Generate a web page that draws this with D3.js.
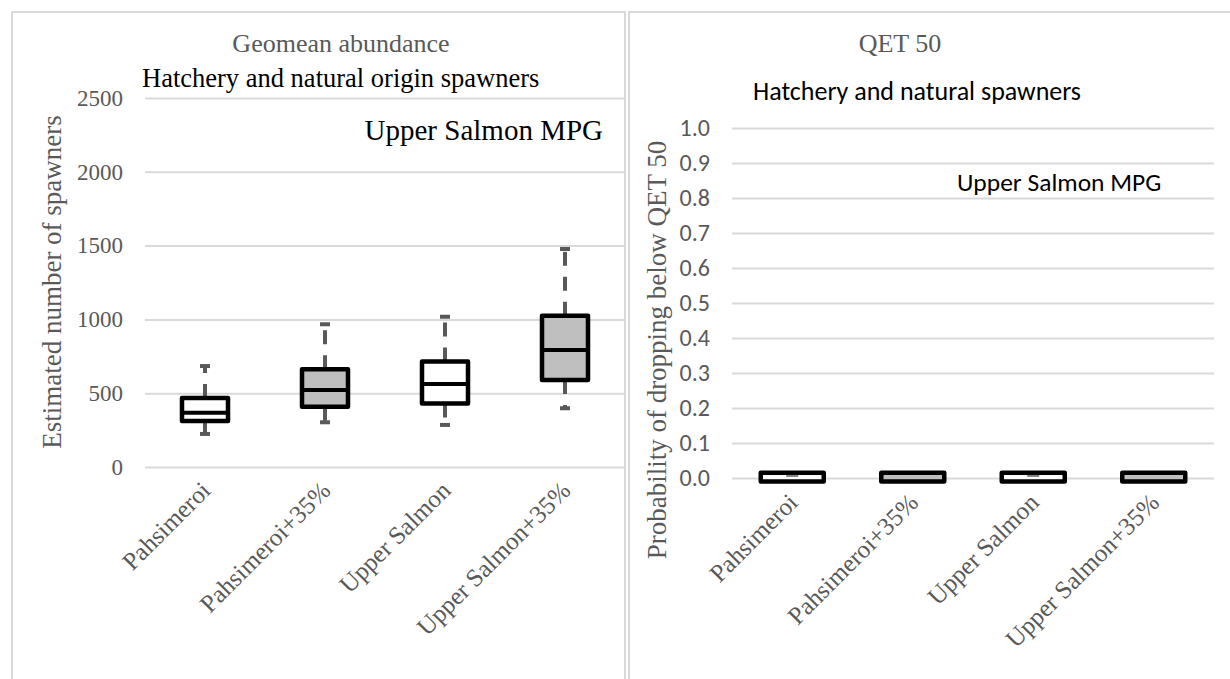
<!DOCTYPE html>
<html>
<head>
<meta charset="utf-8">
<script src="https://cdn.jsdelivr.net/npm/d3@7"></script>
<style>
  body { margin: 0; background: #fff; }
  svg text { font-family: "Liberation Serif", "Times New Roman", serif; }
  .sans { font-family: Carlito, Lato, "Open Sans", sans-serif !important; }
</style>
</head>
<body>
<div id="chart"></div>
<script>
// categories shared by both panels
const categories = ['Pahsimeroi', 'Pahsimeroi+35%', 'Upper Salmon', 'Upper Salmon+35%'];
const boxFill = ['#ffffff', '#bfbfbf', '#ffffff', '#bfbfbf'];

// left panel: geomean abundance (box plot stats)
const abundMin = [224, 303, 285, 398];
const abundQ1 = [312, 408, 430, 590];
const abundMedian = [368, 522, 562, 793];
const abundQ3 = [468, 662, 714, 1024];
const abundMax = [684, 967, 1018, 1477];
const abundTicks = [0, 500, 1000, 1500, 2000, 2500];

// right panel: probability of dropping below QET 50
const qetQ1 = [-0.01, -0.01, -0.01, -0.01];
const qetQ3 = [0.015, 0.015, 0.015, 0.015];
const qetMark = [0.006, null, 0.006, null];
const qetTicks = [0, 0.1, 0.2, 0.3, 0.4, 0.5, 0.6, 0.7, 0.8, 0.9, 1.0];

const width = 1230;
const height = 679;
const grey = '#595959';
const gridColor = '#d9d9d9';

const svg = d3.select('#chart')
    .append('svg')
    .attr('width', width)
    .attr('height', height);

// panel frames
svg.append('rect')
    .attr('x', 12).attr('y', 12)
    .attr('width', 613).attr('height', 700)
    .attr('fill', 'none').attr('stroke', gridColor).attr('stroke-width', 2);
svg.append('rect')
    .attr('x', 629).attr('y', 12)
    .attr('width', 640).attr('height', 700)
    .attr('fill', 'none').attr('stroke', gridColor).attr('stroke-width', 2);

function drawGrid(g, y, ticks, x0, x1, fmt, sans) {
    const axis = d3.axisLeft(y).tickValues(ticks).tickSize(0).tickPadding(0).tickFormat(fmt);
    const ax = g.append('g')
        .attr('transform', `translate(${x0 - 22},0)`)
        .call(axis);
    ax.select('.domain').remove();
    ax.selectAll('text')
        .attr('fill', grey)
        .attr('class', sans ? 'sans' : null)
        .style('font-size', sans ? '24px' : '23px');

    const grid = d3.axisLeft(y).tickValues(ticks).tickSize(-(x1 - x0)).tickFormat('');
    const gg = g.append('g')
        .attr('transform', `translate(${x0},0)`)
        .call(grid);
    gg.select('.domain').remove();
    gg.selectAll('line').attr('stroke', gridColor).attr('stroke-width', 2);
}

function drawXLabels(g, x, yPos, dx) {
    g.selectAll('.xlab')
        .data(categories)
        .enter()
        .append('text')
        .attr('class', 'xlab')
        .attr('transform', d => `translate(${x(d) + x.bandwidth() / 2 + dx},${yPos}) rotate(-45)`)
        .attr('text-anchor', 'end')
        .attr('fill', grey)
        .style('font-size', '25px')
        .text(d => d);
}

// ---------- left panel ----------
const gL = svg.append('g');
const xL = d3.scaleBand().domain(categories).range([145, 625]);
const yL = d3.scaleLinear().domain([0, 2500]).range([467, 98]);

drawGrid(gL, yL, abundTicks, 145, 625, d3.format('d'), false);

const boxWL = 46;
const boxesL = gL.selectAll('.boxL')
    .data(categories)
    .enter()
    .append('g')
    .attr('class', 'boxL')
    .attr('transform', d => `translate(${xL(d) + xL.bandwidth() / 2},0)`);

// whiskers (dashed, from box edge outward)
boxesL.append('line')
    .attr('x1', 0).attr('x2', 0)
    .attr('y1', (d, i) => yL(abundQ3[i]))
    .attr('y2', (d, i) => yL(abundMax[i]))
    .attr('stroke', grey).attr('stroke-width', 4)
    .attr('stroke-dasharray', '14,11');
boxesL.append('line')
    .attr('x1', 0).attr('x2', 0)
    .attr('y1', (d, i) => yL(abundQ1[i]))
    .attr('y2', (d, i) => yL(abundMin[i]))
    .attr('stroke', grey).attr('stroke-width', 4)
    .attr('stroke-dasharray', '14,11');
// caps
[abundMax, abundMin].forEach(arr => {
    boxesL.append('line')
        .attr('x1', -5).attr('x2', 5)
        .attr('y1', (d, i) => yL(arr[i]))
        .attr('y2', (d, i) => yL(arr[i]))
        .attr('stroke', grey).attr('stroke-width', 4);
});
boxesL.append('rect')
    .attr('x', -boxWL / 2)
    .attr('width', boxWL)
    .attr('y', (d, i) => yL(abundQ3[i]))
    .attr('height', (d, i) => yL(abundQ1[i]) - yL(abundQ3[i]))
    .attr('fill', (d, i) => boxFill[i])
    .attr('stroke', '#000').attr('stroke-width', 4.5)
    .attr('stroke-linejoin', 'round');
boxesL.append('line')
    .attr('x1', -boxWL / 2).attr('x2', boxWL / 2)
    .attr('y1', (d, i) => yL(abundMedian[i]))
    .attr('y2', (d, i) => yL(abundMedian[i]))
    .attr('stroke', '#000').attr('stroke-width', 4);

drawXLabels(gL, xL, 492, 7);

gL.append('text')
    .attr('x', 341).attr('y', 52)
    .attr('text-anchor', 'middle').attr('fill', grey)
    .style('font-size', '26px')
    .text('Geomean abundance');
gL.append('text')
    .attr('x', 142).attr('y', 87)
    .attr('fill', '#000')
    .style('font-size', '26.5px')
    .text('Hatchery  and natural origin spawners');
gL.append('text')
    .attr('x', 603).attr('y', 140)
    .attr('text-anchor', 'end').attr('fill', '#000')
    .style('font-size', '29px')
    .text('Upper Salmon MPG');
gL.append('text')
    .attr('transform', 'translate(61,282) rotate(-90)')
    .attr('text-anchor', 'middle').attr('fill', grey)
    .style('font-size', '27px')
    .text('Estimated number of spawners');

// ---------- right panel ----------
const gR = svg.append('g');
const xR = d3.scaleBand().domain(categories).range([732, 1214]);
const yR = d3.scaleLinear().domain([0, 1]).range([478, 128]);

drawGrid(gR, yR, qetTicks, 732, 1214, d3.format('.1f'), true);

const boxWR = 63;
const boxesR = gR.selectAll('.boxR')
    .data(categories)
    .enter()
    .append('g')
    .attr('class', 'boxR')
    .attr('transform', d => `translate(${xR(d) + xR.bandwidth() / 2},0)`);
boxesR.append('rect')
    .attr('x', -boxWR / 2)
    .attr('width', boxWR)
    .attr('y', (d, i) => yR(qetQ3[i]))
    .attr('height', (d, i) => yR(qetQ1[i]) - yR(qetQ3[i]))
    .attr('fill', (d, i) => boxFill[i])
    .attr('stroke', '#000').attr('stroke-width', 4.5)
    .attr('stroke-linejoin', 'round');
boxesR.filter((d, i) => qetMark[i] !== null)
    .append('line')
    .attr('x1', -6).attr('x2', 6)
    .attr('y1', d => yR(qetMark[categories.indexOf(d)]))
    .attr('y2', d => yR(qetMark[categories.indexOf(d)]))
    .attr('stroke', '#7f7f7f').attr('stroke-width', 2);

drawXLabels(gR, xR, 504, 7);

gR.append('text')
    .attr('x', 900).attr('y', 52)
    .attr('text-anchor', 'middle').attr('fill', grey)
    .style('font-size', '26px')
    .text('QET 50');
gR.append('text')
    .attr('x', 753).attr('y', 100)
    .attr('class', 'sans').attr('fill', '#000')
    .style('font-size', '26px')
    .text('Hatchery and natural spawners');
gR.append('text')
    .attr('x', 957).attr('y', 191)
    .attr('class', 'sans').attr('fill', '#000')
    .style('font-size', '25.5px')
    .text('Upper Salmon MPG');
gR.append('text')
    .attr('transform', 'translate(666,350) rotate(-90)')
    .attr('text-anchor', 'middle').attr('fill', grey)
    .style('font-size', '27px')
    .text('Probability of dropping below QET 50');
</script>
</body>
</html>
